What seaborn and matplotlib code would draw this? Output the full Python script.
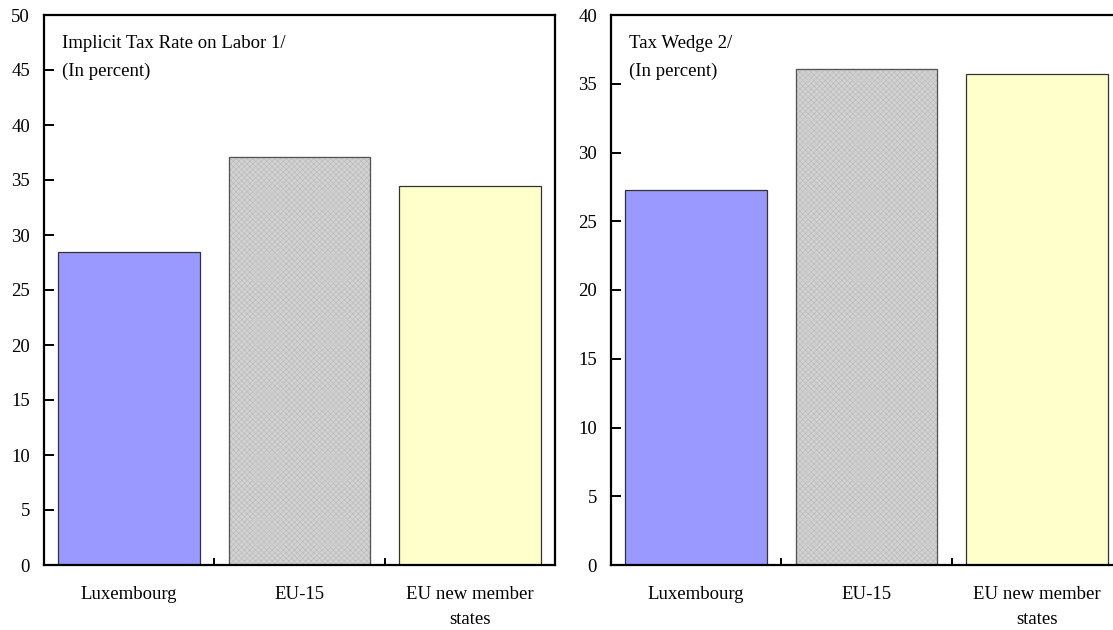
import matplotlib
matplotlib.use("Agg")
import matplotlib.pyplot as plt
import seaborn as sns
import pandas as pd

# Data
categories = ["Luxembourg", "EU-15", "EU new member\nstates"]
implicit_tax_rate = [28.5, 37.1, 34.5]
tax_wedge = [27.3, 36.1, 35.7]
panel_titles = ["Implicit Tax Rate on Labor 1/\n(In percent)", "Tax Wedge 2/\n(In percent)"]
y_limits = [50, 40]
y_steps = [5, 5]

bar_colors = ["#9999FF", "#D2D2D2", "#FFFFCC"]

sns.set_theme(style="white")
plt.rcParams["font.family"] = ["Liberation Serif", "DejaVu Serif"]
plt.rcParams["hatch.linewidth"] = 0.5
plt.rcParams["text.color"] = "black"

fig = plt.figure(figsize=(11.13, 6.30), dpi=100)
# the right panel runs past the right edge of the canvas
ax_left = fig.add_axes([44 / 1113, 65 / 630, 511 / 1113, 550 / 630])
ax_right = fig.add_axes([611 / 1113, 65 / 630, 511 / 1113, 550 / 630])

for i, (ax, values) in enumerate([(ax_left, implicit_tax_rate),
                                  (ax_right, tax_wedge)]):
    df = pd.DataFrame({"category": categories, "value": values})
    sns.barplot(data=df, x="category", y="value", hue="category",
                palette=bar_colors, legend=False, width=0.83,
                edgecolor="#333333", linewidth=0.9, ax=ax, saturation=1)
    # fine checkered texture on the EU-15 bar
    patch = ax.patches[1]
    patch.set_hatch("xxxxxx")
    if hasattr(patch, "set_hatchcolor"):
        patch.set_hatchcolor("#BDBDBD")
        patch.set_edgecolor("#555555")
    else:
        patch.set_edgecolor("#BDBDBD")
        ax.bar(1, values[1], width=0.83, fill=False,
               edgecolor="#555555", linewidth=0.9)

    ax.set_xlim(-0.5, 2.5)
    ax.set_ylim(0, y_limits[i])
    ax.set_yticks(range(0, y_limits[i] + 1, y_steps[i]))
    ax.set_xlabel("")
    ax.set_ylabel("")

    for side in ["left", "bottom", "top", "right"]:
        ax.spines[side].set_visible(True)
        ax.spines[side].set_color("black")
        ax.spines[side].set_linewidth(1.6)

    ax.tick_params(axis="y", direction="in", length=7, width=1.4,
                   labelsize=13.5, pad=10, left=True, colors="black")
    ax.tick_params(axis="x", which="major", length=0, labelsize=13.5, pad=15,
                   colors="black")
    for lbl in ax.get_xticklabels():
        lbl.set_linespacing(1.6)
    ax.set_xticks([0.5, 1.5], minor=True)
    ax.tick_params(axis="x", which="minor", direction="in", length=5,
                   width=1.4, bottom=True, colors="black")

    ax.text(0.036, 0.963, panel_titles[i], transform=ax.transAxes,
            ha="left", va="top", fontsize=13.5, linespacing=1.8,
            color="black")

fig.savefig("out.png", dpi=100)
